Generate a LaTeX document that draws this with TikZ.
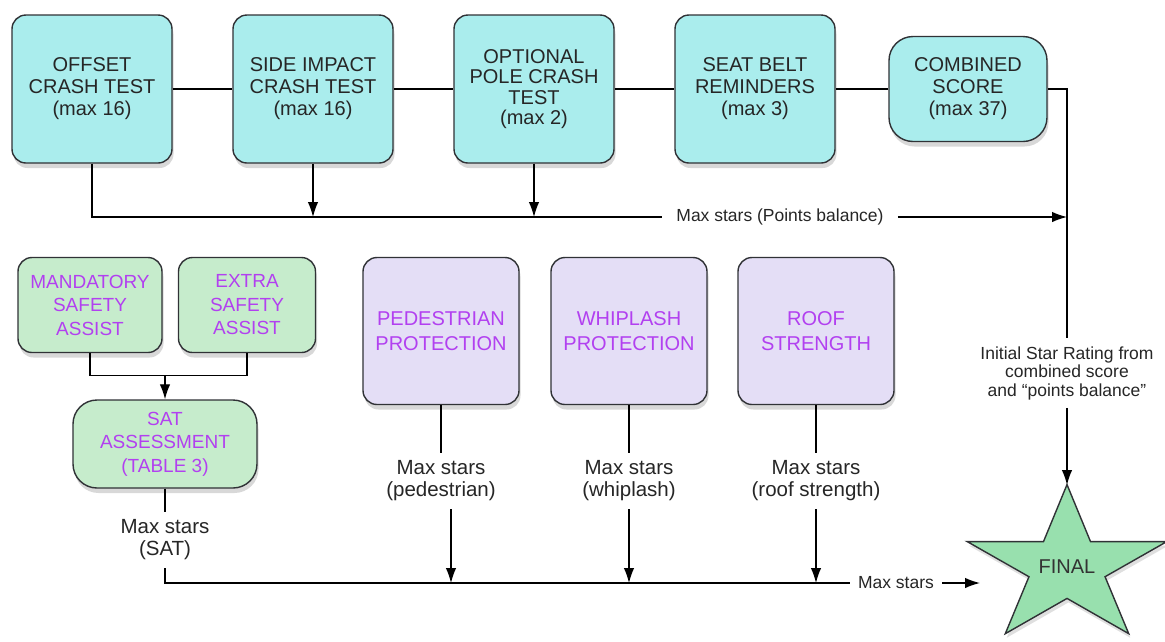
\documentclass[tikz,border=0pt]{standalone}
\usepackage{fontspec}
\setmainfont{Liberation Sans}
\usetikzlibrary{arrows.meta,shadows}

\definecolor{crashcyan}{RGB}{170,237,237}
\definecolor{assistgreen}{RGB}{198,236,204}
\definecolor{protlilac}{RGB}{228,222,246}
\definecolor{stargreen}{RGB}{152,224,174}
\definecolor{violettext}{RGB}{178,64,240}
\definecolor{edgegray}{RGB}{48,50,54}

\begin{document}
\begin{tikzpicture}[x=1pt,y=1pt]
    \tikzset{
      test/.style={draw=edgegray, line width=1.4pt, rectangle, rounded corners=14pt, fill=crashcyan, text=black!85, align=center, minimum width=160pt, minimum height=148pt, font=\fontsize{20}{22}\selectfont, node distance=221pt, drop shadow={shadow xshift=1.5pt, shadow yshift=-5pt, opacity=0.3}},
      assist/.style={test, fill=assistgreen, text=violettext, minimum width=144pt, minimum height=95pt, font=\fontsize{19}{23.5}\selectfont},
      protect/.style={test, fill=protlilac, text=violettext, minimum width=156pt, minimum height=147pt, font=\fontsize{20}{25}\selectfont},
      maxnote/.style={align=center, text=black!85, inner sep=8pt, font=\fontsize{20.5}{22}\selectfont, node distance=150pt},
      flownote/.style={align=center, text=black!85, inner sep=8pt, font=\fontsize{17.5}{18.5}\selectfont},
      finalstar/.style={draw=edgegray, line width=1.4pt, fill=stargreen, drop shadow={shadow xshift=1.5pt, shadow yshift=-4pt, opacity=0.25}},
      wire/.style={draw, line width=1.3pt},
      line/.style={draw, line width=1.3pt, -{Latex[length=15pt,width=10.5pt]}}
    }
    \path [use as bounding box, fill=white] (0,0) rectangle (1165,-641);

    % crash tests
    \node [test] (offset) at (92,-89) {OFFSET\\CRASH TEST\\(max 16)};
    \node [test, right of=offset] (side) {SIDE IMPACT\\CRASH TEST\\(max 16)};
    \node [test, right of=side, font=\fontsize{20}{20.5}\selectfont] (pole) {OPTIONAL\\POLE CRASH\\TEST\\(max 2)};
    \node [test, right of=pole] (belt) {SEAT BELT\\REMINDERS\\(max 3)};
    \node [test, node distance=213pt, right of=belt, minimum width=158pt, minimum height=105pt, rounded corners=24pt] (combined) {COMBINED\\SCORE\\(max 37)};

    % safety assist
    \node [assist] (mandatory) at (90,-305) {MANDATORY\\SAFETY\\ASSIST};
    \node [assist, node distance=157pt, right of=mandatory, minimum width=137pt] (extra) {EXTRA\\SAFETY\\ASSIST};
    \node [assist, minimum width=184pt, minimum height=88pt, rounded corners=24pt] (sat) at (165,-444) {SAT\\ASSESSMENT\\(TABLE 3)};

    % other protections
    \node [protect] (pedestrian) at (441,-331) {PEDESTRIAN\\PROTECTION};
    \node [protect, node distance=188pt, right of=pedestrian] (whiplash) {WHIPLASH\\PROTECTION};
    \node [protect, node distance=187pt, right of=whiplash] (roof) {ROOF\\STRENGTH};

    \node [maxnote] (satstars) at (165,-540) {Max stars\\(SAT)};
    \node [maxnote, below of=pedestrian] (pedstars) {Max stars\\(pedestrian)};
    \node [maxnote, below of=whiplash] (whipstars) {Max stars\\(whiplash)};
    \node [maxnote, below of=roof] (roofstars) {Max stars\\(roof strength)};

    \node [flownote, inner xsep=14pt] (balance) at (780,-217) {Max stars (Points balance)};
    \node [flownote] (initial) at (1067,-373) {Initial Star Rating from\\combined score\\and ``points balance''};
    \node [flownote] (maxfinal) at (896,-583) {Max stars};

    % final star
    \draw [finalstar, shift={(1067,-567)}] (90:105 and 82.4) -- (126:40 and 31.4) -- (162:105 and 82.4) -- (198:40 and 31.4) -- (234:105 and 82.4) -- (270:40 and 31.4) -- (306:105 and 82.4) -- (342:40 and 31.4) -- (18:105 and 82.4) -- (54:40 and 31.4) -- cycle;
    \node [font=\fontsize{20}{22}\selectfont, text=black!80] (final) at (1067,-567) {FINAL};
    \coordinate (finaltop) at (1067,-485);
    \coordinate (finalin) at (980,-583);
    \coordinate (merge) at ([yshift=24pt]sat.north);

    \path [wire] (offset) -- (side);
    \path [wire] (side) -- (pole);
    \path [wire] (pole) -- (belt);
    \path [wire] (belt) -- (combined);
    \path [wire] (combined) -| (initial);
    \path [line] (initial) -- (finaltop);

    \path [wire] (offset) |- (balance);
    \path [line] (side) -- (side |- balance);
    \path [line] (pole) -- (pole |- balance);
    \path [line] (balance) -- (initial |- balance);

    \path [wire] (mandatory) |- (merge) -| (extra);
    \path [line] (merge) -- (sat);
    \path [wire] (sat) -- (satstars);
    \path [wire] (satstars) |- (maxfinal);
    \path [line] (maxfinal) -- (finalin);

    \path [wire] (pedestrian) -- (pedstars);
    \path [wire] (whiplash) -- (whipstars);
    \path [wire] (roof) -- (roofstars);
    \path [line] ([xshift=10pt]pedstars.south) -- ([xshift=10pt]pedstars.south |- maxfinal);
    \path [line] (whipstars) -- (whipstars |- maxfinal);
    \path [line] (roofstars) -- (roofstars |- maxfinal);
\end{tikzpicture}
\end{document}
